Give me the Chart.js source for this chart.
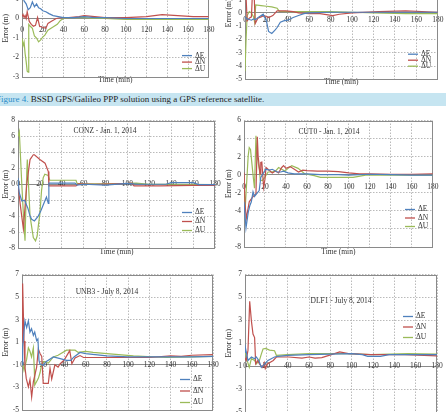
<!DOCTYPE html>
<html>
<head>
<meta charset="utf-8">
<script src="https://cdn.jsdelivr.net/npm/chart.js@4.4.0/dist/chart.umd.min.js"></script>
<style>
  html, body { margin: 0; padding: 0; background: #fff; overflow: hidden; }
  body { width: 446px; height: 412px; position: relative; }
  canvas { position: absolute; }
  .caption { position: absolute; left: 0; top: 93px; width: 446px; height: 13px; background: #c6e5f1;
    font: 9px "Liberation Serif", serif; line-height: 13px; color: #1e1e1e; white-space: nowrap; text-indent: -4px; }
  .caption span { color: #2a8cc8; }
</style>
</head>
<body>
<div class="caption"><span>Figure 4.</span> BSSD GPS/Galileo PPP solution using a GPS reference satellite.</div>
<canvas id="p1"></canvas>
<canvas id="p2"></canvas>
<canvas id="p3"></canvas>
<canvas id="p4"></canvas>
<canvas id="p5"></canvas>
<canvas id="p6"></canvas>
<script>
const seriesLabels = ["ΔE", "ΔN", "ΔU"];
const seriesColors = ["#4f81bd", "#c0504d", "#9bbb59"];

// panel 1 (top left, previous figure)
const p1TimeE = [0, 2, 4, 6, 8, 10, 12, 14, 16, 18, 20, 23, 26, 30, 35, 40, 50, 60, 70, 80, 100, 120, 140, 160, 180];
const p1E = [1.3, 0.9, 0.75, 0.45, 0.55, 0.85, 0.6, 0.75, 0.55, 0.5, 0.4, 0.35, 0.25, 0.15, 0.1, 0.05, 0.05, 0.1, 0.05, 0.05, 0.0, 0.0, 0.0, 0.0, 0.0];
const p1TimeN = [0, 1, 2, 3, 4, 5, 6, 7, 9, 11, 13, 15, 17, 20, 23, 25, 28, 33, 38, 45, 55, 60, 70, 80, 100, 120, 135, 150, 165, 180];
const p1N = [0.1, 0.2, 0.05, 0.15, 0.0, 0.35, 0.1, -0.15, -0.3, -0.4, -0.35, 0.05, -0.4, -0.45, -0.5, -0.25, -0.15, 0.0, 0.05, 0.05, 0.1, 0.15, 0.1, 0.05, 0.05, 0.1, 0.2, 0.15, 0.1, 0.1];
const p1TimeU = [0, 1, 2, 3, 4, 5, 6, 6.5, 8, 10, 12, 14, 16, 18, 20, 22, 25, 28, 31, 34, 37, 40, 50, 60, 70, 80, 100, 120, 150, 180];
const p1U = [-1.0, -1.4, -1.2, -1.8, -2.2, -2.7, -2.75, -0.3, -0.4, -0.5, -0.9, -1.0, -1.2, -1.1, -0.95, -0.85, -0.6, -0.5, -0.4, -0.3, -0.1, 0.0, 0.05, 0.05, 0.0, 0.0, -0.05, -0.05, -0.05, -0.05];

// panel 2 (top right, previous figure)
const p2TimeE = [0, 2, 4, 6, 8, 10, 13, 17, 20, 22, 25, 28, 30, 33, 36, 40, 45, 50, 55, 60, 80, 100, 120, 140, 160, 180];
const p2E = [-0.3, -0.45, -0.5, -0.55, -0.45, -0.5, -0.3, -0.1, -0.6, -1.4, -1.55, -1.3, -1.1, -0.7, -0.6, -0.55, -0.35, -0.2, -0.05, 0.0, 0.05, 0.05, 0.05, 0.05, 0.05, 0.05];
const p2TimeN = [0, 1, 2, 4, 6, 7, 8.5, 9.5, 12, 15, 18, 22, 26, 30, 38, 45, 50, 60, 70, 82, 88, 100, 125, 150, 180];
const p2N = [1.6, 1.2, -0.6, -0.4, -0.3, 1.6, 1.5, -0.8, -0.4, -0.3, -0.2, -0.35, -0.2, 0.15, 0.15, 0.1, 0.0, -0.05, -0.05, -0.2, -0.1, 0.0, 0.1, 0.15, 0.05];
const p2TimeU = [0, 1, 2, 4, 6, 8, 9, 10, 15, 20, 25, 30, 32, 40, 60, 80, 100, 120, 150, 180];
const p2U = [-4.4, -2.0, -0.2, 0.1, 0.0, -0.3, -0.7, 0.6, 0.55, 0.5, 0.45, 0.35, 0.12, 0.1, 0.1, 0.1, 0.05, 0.0, -0.05, -0.05];

// CONZ - Jan. 1, 2014
const conzTimeE = [0, 1, 3.5, 6, 9, 11, 12.5, 15, 18.5, 21, 24.5, 26, 27.7, 28.2, 40, 52, 54, 60, 80, 100, 110, 135, 140, 160, 165, 180];
const conzE = [0.8, -1.0, -2.1, -2.0, -3.0, -4.0, -4.4, -4.6, -4.0, -3.3, -2.1, -1.6, -2.4, 0.15, 0.15, 0.15, -0.1, 0.0, -0.1, 0.1, 0.0, 0.0, 0.2, 0.2, -0.05, -0.05];
const conzTimeN = [0, 2, 4.9, 6.4, 8, 11, 14, 15, 20, 24.7, 26, 27.7, 28.2, 40, 53, 55, 70, 90, 100, 104, 106, 130, 160, 180];
const conzN = [0.0, -2.5, -5.6, -2.9, 0.0, 3.1, 3.7, 3.7, 3.1, 2.65, 2.2, 1.6, -0.2, -0.2, -0.2, 0.05, 0.0, 0.05, 0.1, 0.15, -0.2, -0.2, -0.15, -0.15];
const conzTimeU = [0, 1.2, 3.4, 5, 6.4, 8, 8.5, 11, 14, 16, 17.5, 18.6, 20, 21.5, 23, 24.5, 27.6, 29, 40, 53, 54, 60, 80, 100, 108, 120, 150, 180];
const conzU = [6.0, 6.6, 0.2, -4.0, -7.1, 1.4, 3.1, -4.0, -6.7, -7.1, -6.5, -5.2, -3.7, -0.8, 0.8, 1.25, 1.1, 0.5, 0.5, 0.5, 0.1, 0.05, 0.05, 0.1, 0.15, 0.0, 0.0, -0.05];

// CUT0 - Jan. 1, 2014
const cut0TimeE = [0, 1.9, 4, 5.6, 7, 8.6, 10, 14.5, 16, 20.7, 24, 27, 31.6, 35, 37.7, 42, 48, 60, 73, 90, 100, 120, 140, 160, 180];
const cut0E = [-3.0, -5.9, -4.2, -3.4, -3.0, -1.9, -2.4, -1.75, -0.3, 0.6, 0.5, 0.6, 0.3, 0.3, 0.4, 0.2, 0.1, 0.1, 0.0, 0.0, -0.05, 0.05, 0.0, -0.05, -0.05];
const cut0TimeN = [0, 1, 2.2, 5, 8, 11.4, 12.7, 13.5, 15.3, 16, 17, 18.7, 20, 21, 24, 27, 30, 33, 36, 37.7, 40, 44, 48, 52, 56, 60, 70, 80, 90, 100, 110, 120, 140, 160, 180];
const cut0N = [0.25, -3.3, -4.85, -3.0, -2.5, -2.1, 4.2, 2.0, 0.1, 1.35, 1.4, -1.4, -0.5, 0.8, 0.5, 0.2, 0.4, 0.2, 0.8, 1.0, 0.7, 0.9, 0.6, 0.3, 0.5, 0.45, 0.4, 0.4, 0.35, 0.2, 0.1, 0.1, 0.05, 0.05, 0.1];
const cut0TimeU = [0, 1, 4, 5, 6.2, 8.7, 10, 11.4, 12, 14.8, 15.5, 17.6, 20.7, 23, 26, 30, 33, 36, 39, 42, 45.5, 51.6, 57.8, 67, 73, 90, 104, 116, 140, 180];
const cut0U = [-0.8, -4.0, 2.1, 3.0, 2.8, -0.1, -1.5, 4.3, 2.4, 0.44, -0.6, -0.65, -0.1, 0.3, 0.3, 0.4, 0.8, 0.6, 0.4, 0.7, 1.0, 0.7, 0.1, -0.1, -0.3, -0.3, -0.3, -0.05, -0.05, -0.05];

// UNB3 - July 8, 2014
const unb3TimeE = [0, 0.6, 2.8, 4.4, 6, 7.5, 9, 10.7, 12, 13.8, 15, 16, 16.8, 20, 23, 29.5, 36, 42, 46, 49, 54.7, 60, 80, 100, 120, 140, 160, 180];
const unb3E = [-1.0, 0.55, 2.9, 2.3, 2.9, 1.9, 2.2, 1.6, 1.9, 1.15, 1.3, -0.6, -0.9, -1.05, -0.7, -0.3, -0.45, -0.6, -0.6, -0.3, 0.1, 0.0, -0.2, -0.3, -0.3, -0.3, -0.3, -0.25];
const unb3TimeN = [0, 0.6, 1.9, 2.8, 4, 6, 7.5, 9.1, 10.7, 13.8, 15.4, 17, 18.6, 20, 24.8, 26.4, 28, 31, 34, 36, 39.6, 45, 47, 50, 54.7, 58, 80, 100, 120, 140, 150, 160, 180];
const unb3N = [1.0, 6.2, 1.1, -1.2, -2.2, -2.95, -2.3, -3.85, -2.5, -1.2, 0.4, 0.0, -0.25, -2.65, -2.65, -1.3, -2.25, -1.0, -1.2, -0.9, -0.6, 0.26, -0.9, -0.4, -0.18, -0.35, -0.35, -0.35, -0.35, -0.2, -0.25, -0.15, -0.1];
const unb3TimeU = [0, 1.9, 4.4, 6, 7.5, 9, 10.7, 11.6, 12, 15.4, 17, 18.6, 20, 24.8, 29.5, 34, 42, 50, 53, 60, 67, 80, 105, 136, 160, 180];
const unb3U = [-0.6, -1.5, -0.5, 0.5, 0.2, -0.3, 0.5, -1.4, -2.8, -2.2, -1.7, -0.9, -0.7, -0.85, -0.3, -0.15, 0.3, 0.3, 0.1, 0.2, 0.1, 0.0, -0.2, -0.35, -0.3, -0.25];

// DLF1 - July 8, 2014
const dlf1TimeE = [0, 0.6, 2.8, 6, 9, 10.6, 13, 15.3, 18.4, 21.5, 24.6, 27.7, 30.8, 40, 60, 80, 100, 110, 115, 127, 135, 160, 180];
const dlf1E = [0.2, 0.5, -0.5, -0.2, -0.35, -0.2, -0.5, -1.1, -0.8, -0.5, -0.35, -0.2, -0.15, -0.05, 0.0, 0.05, 0.1, 0.0, -0.15, -0.15, 0.0, 0.0, 0.0];
const dlf1TimeN = [0, 1.2, 2.8, 4.4, 6, 7.5, 9, 10, 12, 13.5, 16.5, 18, 19, 21, 26.5, 29.4, 41, 53.4, 60, 65.7, 72, 84, 88.7, 97, 118, 150, 180];
const dlf1N = [-0.3, -0.5, 0.4, 4.67, 2.95, 1.8, 1.5, -0.8, -0.5, -0.8, -1.1, -0.7, -1.2, -0.8, -0.5, -0.2, -0.2, -0.3, -0.2, -0.3, -0.25, 0.1, 0.25, 0.1, 0.0, 0.0, -0.1];
const dlf1TimeU = [0, 0.6, 2, 4, 6, 9, 10.6, 13.5, 15.3, 16.9, 19.4, 23, 27.7, 29.4, 40, 60, 72, 97, 118, 153, 180];
const dlf1U = [0.3, 0.1, -0.5, -1.1, -0.35, -0.5, -0.8, -0.5, 0.05, 0.5, 0.55, 0.4, 0.35, -0.05, 0.0, 0.1, 0.1, 0.1, 0.0, 0.1, 0.05];

const font = { family: "'Liberation Serif', serif", size: 7.5 };
const textColor = "#333";
const gridColor = "#a8a8a8";

function pts(t, v) {
  return t.map((x, i) => ({ x: x, y: v[i] }));
}

// frame round the plot, station label and legend inside the plot
const framePlugin = {
  id: "frame",
  beforeDatasetsDraw(chart) {
    const a = chart.chartArea, ctx = chart.ctx;
    ctx.save();
    ctx.strokeStyle = "#8a8a8a";
    ctx.lineWidth = 1;
    ctx.strokeRect(Math.round(a.left) + 0.5, Math.round(a.top) + 0.5,
      Math.round(a.right - a.left) - 1, Math.round(a.bottom - a.top) - 1);
    ctx.restore();
  },
  afterDraw(chart, args, opts) {
    const a = chart.chartArea, ctx = chart.ctx;
    ctx.save();
    ctx.fillStyle = textColor;
    ctx.textBaseline = "middle";
    if (opts.title) {
      ctx.font = "7.5px 'Liberation Serif', serif";
      ctx.textAlign = "center";
      ctx.fillText(opts.title, a.left + opts.titleX, a.top + opts.titleY);
    }
    ctx.font = "7.5px 'Liberation Serif', serif";
    ctx.textAlign = "left";
    chart.data.datasets.forEach((ds, i) => {
      const x = a.left + opts.legendX, y = a.top + opts.legendY + i * opts.legendGap;
      ctx.strokeStyle = ds.borderColor;
      ctx.lineWidth = 1.3;
      ctx.beginPath();
      ctx.moveTo(x, y);
      ctx.lineTo(x + 10, y);
      ctx.stroke();
      ctx.fillText(ds.label, x + 13, y);
    });
    ctx.restore();
  }
};

function makePanel(id, box, area, yRange, xAxisAt, xPad, series, deco) {
  const cv = document.getElementById(id);
  cv.width = box.w;
  cv.height = box.h;
  cv.style.left = box.x + "px";
  cv.style.top = box.y + "px";
  const yW = area.left - box.x;
  const pt = area.top - box.y;
  const pr = box.x + box.w - area.right;
  const hb = box.y + box.h - area.bottom;

  new Chart(cv, {
    type: "line",
    data: {
      datasets: series.map((s, i) => ({
        label: seriesLabels[i],
        data: pts(s[0], s[1]),
        borderColor: seriesColors[i],
        borderWidth: 1.2,
        pointRadius: 0,
        tension: 0,
        fill: false
      }))
    },
    options: {
      responsive: false,
      animation: false,
      devicePixelRatio: 1,
      layout: { padding: { top: pt, right: pr, bottom: 0, left: 0 } },
      plugins: { legend: { display: false }, tooltip: { enabled: false }, frame: deco },
      scales: {
        x: {
          type: "linear", min: 0, max: 180, position: { y: xAxisAt },
          ticks: { stepSize: 20, padding: xPad, font: font, color: textColor, maxRotation: 0, autoSkip: false },
          grid: { color: gridColor, lineWidth: 0.8, drawTicks: false },
          border: { display: true, color: "#8a8a8a", width: 1, dash: [1.5, 1.5] }
        },
        xb: {
          type: "linear", position: "bottom",
          ticks: { display: false },
          grid: { display: false, drawTicks: false },
          border: { display: false },
          title: { display: true, text: "Time (min)", font: font, color: textColor, padding: 0 },
          afterFit: (s) => { s.height = hb; }
        },
        y: {
          min: yRange[0], max: yRange[1],
          ticks: { stepSize: yRange[2], padding: 3, font: font, color: textColor },
          grid: { color: gridColor, lineWidth: 0.8, drawTicks: false },
          border: { display: false, dash: [1.5, 1.5] },
          title: { display: true, text: "Error (m)", font: font, color: textColor, padding: { top: 2, bottom: 0 } },
          afterFit: (s) => { s.width = yW; }
        }
      }
    },
    plugins: [framePlugin]
  });
}

makePanel("p1", { x: 0, y: -28, w: 221, h: 113 }, { left: 22, top: -22.1, right: 213, bottom: 77 },
  [-3, 2, 1], 0, 6.6,
  [[p1TimeE, p1E], [p1TimeN, p1N], [p1TimeU, p1U]],
  { legendX: 160, legendY: 76.1, legendGap: 6.5 });

makePanel("p2", { x: 223, y: -61, w: 223, h: 148 }, { left: 245, top: -54.7, right: 438, bottom: 79.3 },
  [-5, 5, 1], 0, 2.6,
  [[p2TimeE, p2E], [p2TimeN, p2N], [p2TimeU, p2U]],
  { legendX: 163, legendY: 107.7, legendGap: 6 });

makePanel("p3", { x: 0, y: 113, w: 223, h: 144 }, { left: 18, top: 119, right: 215, bottom: 248 },
  [-8, 8, 2], 0, -4.5,
  [[conzTimeE, conzE], [conzTimeN, conzN], [conzTimeU, conzU]],
  { title: "CONZ - Jan. 1, 2014", titleX: 87, titleY: 11, legendX: 164, legendY: 92, legendGap: 9 });

makePanel("p4", { x: 223, y: 113, w: 223, h: 144 }, { left: 244, top: 119, right: 438, bottom: 247 },
  [-8, 6, 2], 0, 7.6,
  [[cut0TimeE, cut0E], [cut0TimeN, cut0N], [cut0TimeU, cut0U]],
  { title: "CUT0 - Jan. 1, 2014", titleX: 85, titleY: 12, legendX: 161, legendY: 89, legendGap: 8.5 });

makePanel("p5", { x: 0, y: 267, w: 221, h: 163 }, { left: 22, top: 273, right: 213, bottom: 410 },
  [-5, 7, 2], -1, -4.5,
  [[unb3TimeE, unb3E], [unb3TimeN, unb3N], [unb3TimeU, unb3U]],
  { title: "UNB3 - July 8, 2014", titleX: 85, titleY: 18, legendX: 158, legendY: 105, legendGap: 11.5 });

makePanel("p6", { x: 223, y: 267, w: 223, h: 163 }, { left: 245, top: 273, right: 437, bottom: 412 },
  [-5, 7, 2], -1, -4.5,
  [[dlf1TimeE, dlf1E], [dlf1TimeN, dlf1N], [dlf1TimeU, dlf1U]],
  { title: "DLF1 - July 8, 2014", titleX: 96, titleY: 27, legendX: 158, legendY: 42, legendGap: 10.5 });
</script>
</body>
</html>
